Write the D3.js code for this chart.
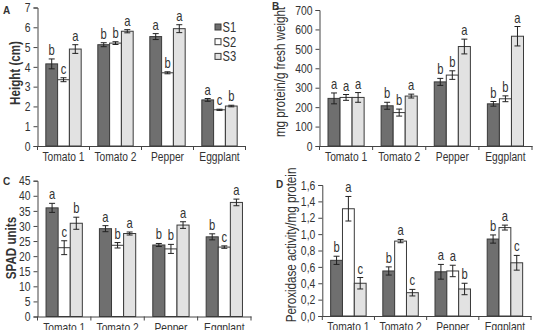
<!DOCTYPE html>
<html>
<head>
<meta charset="utf-8">
<script src="https://cdn.jsdelivr.net/npm/d3@7"></script>
<style>
  body { margin: 0; background: #fff; }
  svg { display: block; }
  text { font-family: "Liberation Sans", Arial, sans-serif; fill: #333; }
</style>
</head>
<body>
<svg id="chart" width="535" height="330"></svg>
<script>
var crops = ['Tomato 1', 'Tomato 2', 'Pepper', 'Eggplant'];
var series = ['S1', 'S2', 'S3'];

// A - height (cm)
var heightMean = [[4.15, 3.35, 4.9], [5.12, 5.2, 5.8], [5.53, 3.7, 5.93], [2.33, 1.83, 2.02]];
var heightErr = [[0.25, 0.1, 0.22], [0.1, 0.07, 0.08], [0.15, 0.05, 0.2], [0.07, 0.03, 0.04]];
var heightLetters = [['b', 'c', 'a'], ['b', 'b', 'a'], ['a', 'b', 'a'], ['a', 'c', 'b']];

// B - protein
var proteinMean = [[245, 250, 250], [207, 172, 257], [330, 365, 512], [217, 243, 565]];
var proteinErr = [[28, 15, 25], [18, 18, 10], [18, 22, 38], [12, 15, 50]];
var proteinLetters = [['a', 'a', 'a'], ['b', 'b', 'a'], ['b', 'b', 'a'], ['b', 'b', 'a']];

// C - SPAD
var spadMean = [[36, 22.8, 30.9], [29.1, 23.6, 27.5], [23.7, 22.4, 30.3], [26.4, 23, 37.8]];
var spadErr = [[1.5, 2.3, 2], [1, 0.9, 0.5], [0.5, 1.5, 1.1], [1, 0.4, 1.1]];
var spadLetters = [['a', 'c', 'b'], ['a', 'b', 'a'], ['b', 'b', 'a'], ['b', 'c', 'a']];

// D - peroxidase
var peroxMean = [[0.68, 1.31, 0.4], [0.55, 0.915, 0.285], [0.54, 0.55, 0.33], [0.94, 1.08, 0.65]];
var peroxErr = [[0.05, 0.15, 0.07], [0.05, 0.02, 0.04], [0.09, 0.07, 0.07], [0.05, 0.03, 0.09]];
var peroxLetters = [['b', 'a', 'c'], ['b', 'a', 'c'], ['a', 'a', 'b'], ['b', 'a', 'c']];

var colors = { S1: '#6f6f6f', S2: '#ffffff', S3: '#e2e2e2' };
var NARROW = 0.8; // fake a condensed face (no Arial Narrow available)

var svg = d3.select('#chart');

// squeeze a text horizontally around its own anchor point
function narrow(sel, extra) {
    sel.each(function () {
        var t = d3.select(this);
        var x = +t.attr('x') || 0;
        var y = +t.attr('y') || 0;
        t.attr('x', 0).attr('y', 0)
         .attr('transform', 'translate(' + x + ',' + y + ')' + (extra || '') + ' scale(' + NARROW + ',1)');
    });
}

function drawPanel(opt) {
    var g = svg.append('g');

    var y = d3.scaleLinear()
        .domain([0, opt.max])
        .range([opt.bottom, opt.top]);

    var x0 = d3.scaleBand()
        .domain(crops)
        .range([opt.left, opt.right])
        .paddingInner(0.32)
        .paddingOuter(0.16);

    var x1 = d3.scaleBand()
        .domain(series)
        .range([0, x0.bandwidth()]);

    // y axis
    var yAxis = d3.axisLeft(y)
        .tickValues(d3.range(0, opt.max + opt.step / 2, opt.step))
        .tickSize(4)
        .tickPadding(3)
        .tickFormat(opt.fmt);

    var ya = g.append('g')
        .attr('transform', 'translate(' + opt.left + ',0)')
        .call(yAxis);
    ya.select('.domain').attr('stroke', '#444');
    ya.selectAll('.tick line').attr('stroke', '#444');
    ya.selectAll('.tick text')
        .style('font-size', '13px')
        .attr('fill', '#333')
        .call(narrow);

    // x axis (labels only, separators drawn below)
    var xa = g.append('g')
        .attr('transform', 'translate(0,' + opt.bottom + ')')
        .call(d3.axisBottom(x0).tickSize(0).tickPadding(6).tickSizeOuter(0));
    xa.select('.domain').attr('stroke', '#444');
    xa.selectAll('.tick text')
        .style('font-size', '12.8px')
        .attr('fill', '#333')
        .call(narrow);

    var step = x0.step();
    var bounds = d3.range(0, crops.length + 1).map(function (i) {
        return opt.left + i * step;
    });
    g.selectAll('.sep')
        .data(bounds)
        .enter()
        .append('line')
        .attr('x1', function (d) { return d; })
        .attr('x2', function (d) { return d; })
        .attr('y1', opt.bottom)
        .attr('y2', opt.bottom + 4)
        .attr('stroke', '#444');

    // flatten data
    var rows = [];
    crops.forEach(function (c, i) {
        series.forEach(function (s, j) {
            rows.push({
                crop: c,
                s: s,
                v: opt.mean[i][j],
                e: opt.err[i][j],
                l: opt.letters[i][j]
            });
        });
    });

    var bar = g.selectAll('.bar')
        .data(rows)
        .enter()
        .append('g')
        .attr('transform', function (d) {
            return 'translate(' + (x0(d.crop) + x1(d.s)) + ',0)';
        });

    bar.append('rect')
        .attr('x', 0)
        .attr('width', x1.bandwidth())
        .attr('y', function (d) { return y(d.v); })
        .attr('height', function (d) { return opt.bottom - y(d.v); })
        .attr('fill', function (d) { return colors[d.s]; })
        .attr('stroke', '#3a3a3a')
        .attr('stroke-width', 1);

    var cx = x1.bandwidth() / 2;
    bar.append('line')
        .attr('x1', cx).attr('x2', cx)
        .attr('y1', function (d) { return y(d.v + d.e); })
        .attr('y2', function (d) { return y(d.v - d.e); })
        .attr('stroke', '#222');
    bar.append('line')
        .attr('x1', cx - 3).attr('x2', cx + 3)
        .attr('y1', function (d) { return y(d.v + d.e); })
        .attr('y2', function (d) { return y(d.v + d.e); })
        .attr('stroke', '#222');
    bar.append('line')
        .attr('x1', cx - 3).attr('x2', cx + 3)
        .attr('y1', function (d) { return y(d.v - d.e); })
        .attr('y2', function (d) { return y(d.v - d.e); })
        .attr('stroke', '#222');

    bar.append('text')
        .attr('x', cx)
        .attr('y', function (d) { return y(d.v + d.e) - 4; })
        .attr('text-anchor', 'middle')
        .style('font-size', '14px')
        .text(function (d) { return d.l; })
        .call(narrow);

    // axis title
    svg.append('text')
        .attr('x', opt.titleX)
        .attr('y', opt.titleY)
        .attr('text-anchor', 'middle')
        .style('font-size', '14.5px')
        .style('font-weight', opt.titleBold ? 'bold' : 'normal')
        .text(opt.title)
        .call(narrow, ' rotate(-90)');

    // panel letter
    svg.append('text')
        .attr('x', opt.letterX)
        .attr('y', opt.letterY)
        .style('font-size', '10px')
        .style('font-weight', 'bold')
        .text(opt.letter);
}

drawPanel({
    left: 37.5, right: 245.5, top: 7.5, bottom: 146, max: 7, step: 1,
    fmt: d3.format('d'),
    mean: heightMean, err: heightErr, letters: heightLetters,
    title: 'Height (cm)', titleX: 20, titleY: 73, titleBold: true,
    letter: 'A', letterX: 3, letterY: 14
});

drawPanel({
    left: 319.5, right: 532, top: 10, bottom: 146, max: 700, step: 100,
    fmt: d3.format('d'),
    mean: proteinMean, err: proteinErr, letters: proteinLetters,
    title: 'mg protein/g fresh weight', titleX: 284.5, titleY: 72, titleBold: false,
    letter: 'B', letterX: 272, letterY: 10
});

drawPanel({
    left: 37.5, right: 251, top: 180.7, bottom: 316.5, max: 45, step: 5,
    fmt: d3.format('d'),
    mean: spadMean, err: spadErr, letters: spadLetters,
    title: 'SPAD units', titleX: 15.5, titleY: 248, titleBold: true,
    letter: 'C', letterX: 3, letterY: 185
});

drawPanel({
    left: 322.3, right: 531, top: 185, bottom: 316, max: 1.6, step: 0.2,
    fmt: function (d) { return d3.format('.1f')(d).replace('.', ','); },
    mean: peroxMean, err: peroxErr, letters: peroxLetters,
    title: 'Peroxidase activity/mg protein', titleX: 296, titleY: 245, titleBold: false,
    letter: 'D', letterX: 276, letterY: 188
});

// legend (panel A)
var legend = svg.append('g')
    .attr('transform', 'translate(215,27)');
var li = legend.selectAll('g')
    .data(series)
    .enter()
    .append('g')
    .attr('transform', function (d, i) { return 'translate(0,' + i * 14.7 + ')'; });
li.append('rect')
    .attr('x', 0).attr('y', -3)
    .attr('width', 6).attr('height', 6)
    .attr('fill', function (d) { return colors[d]; })
    .attr('stroke', '#3a3a3a');
li.append('text')
    .attr('x', 7.5)
    .attr('y', 5)
    .style('font-size', '14px')
    .text(function (d) { return d; })
    .call(narrow);
</script>
</body>
</html>
